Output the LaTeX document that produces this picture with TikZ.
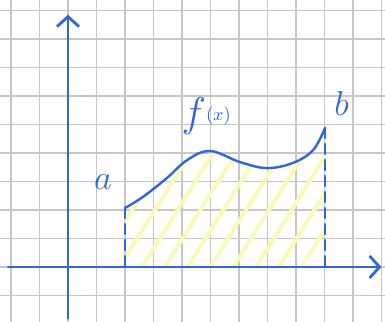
\documentclass[tikz,border=0pt]{standalone}
\usetikzlibrary{arrows.meta}
\definecolor{ink}{RGB}{50,100,220}
\definecolor{hatch}{RGB}{251,249,185}

\begin{document}
\begin{tikzpicture}[x=0.5cm,y=0.5cm,>={Straight Barb[length=5pt,width=11pt]},line cap=round]
\tikzstyle{pen}=[draw=ink,line width=1.4pt]
\tikzstyle{lbl}=[text=ink,inner sep=0pt]
\useasboundingbox (-2.386,-1.93) rectangle (11.123,9.368);
% squared paper
\draw[gray!45,line width=0.9pt,step=0.5cm] (-2.386,-1.93) grid (11.123,9.368);
% axes
\coordinate (xl) at (-2.1,0);
\coordinate (xr) at (11.0,0);
\coordinate (yb) at (0,-1.8);
\coordinate (yt) at (0,8.85);
% limits of the area
\coordinate (a) at (2,2.07);
\coordinate (a0) at (2,0);
\coordinate (b) at (9.02,4.88);
\coordinate (b0) at (9.02,0);
% hatching under the curve
\begin{scope}
\clip (a0) -- plot[smooth,tension=0.6] coordinates {(2,2.07) (2.63,2.46) (3.47,3.12) (4.18,3.75) (4.98,4.07) (6.04,3.68) (6.98,3.47) (7.89,3.65) (8.6,4.1) (9.02,4.88)} -- (b0) -- cycle;
\foreach \i in {-2,...,10} \draw[hatch,line width=2pt] (\i*0.8+1,0) -- ++(58:7);
\end{scope}
\draw[pen,->] (xl) -- (xr);
\draw[pen,->] (yb) -- (yt);
\draw[pen,dash pattern=on 5pt off 3pt] (a) -- (a0);
\draw[pen,dash pattern=on 5pt off 3pt] (b) -- (b0);
% the function
\draw[pen,line width=1.2pt] plot[smooth,tension=0.6] coordinates {(2,2.07) (2.63,2.46) (3.47,3.12) (4.18,3.75) (4.98,4.07) (6.04,3.68) (6.98,3.47) (7.89,3.65) (8.6,4.1) (9.02,4.88)};
\node[lbl,font=\LARGE] (la) at (1.23,2.98) {$a$};
\node[lbl,font=\LARGE] (lb) at (9.6,5.75) {$b$};
\node[lbl] (lf) at (4.85,5.3) {{\huge$f$}\raisebox{3pt}{\small$(x)$}};
\end{tikzpicture}
\end{document}
